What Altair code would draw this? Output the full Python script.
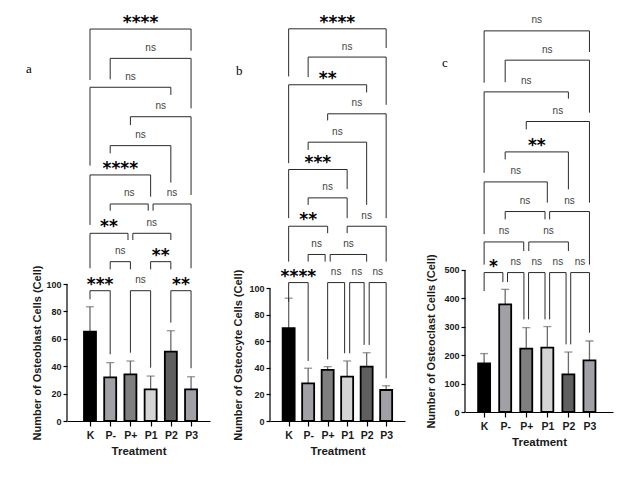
import json
import altair as alt
import pandas as pd

groups = ["K", "P-", "P+", "P1", "P2", "P3"]
bar_colors = ["#000000", "#a0a0a6", "#7f7f7f", "#d4d4d4", "#5f5f5f", "#a0a0a6"]

osteoblast_mean = [65.2, 31.9, 34.1, 23.1, 50.6, 23.1]
osteoblast_sd = [18.2, 10.7, 9.7, 9.7, 15.3, 9.2]
osteocyte_mean = [70.0, 28.4, 38.5, 33.4, 41.0, 23.4]
osteocyte_sd = [22.6, 11.4, 2.5, 11.9, 10.5, 3.2]
osteoclast_mean = [171.5, 379.0, 223.0, 226.6, 132.7, 182.0]
osteoclast_sd = [34.1, 52.7, 74.0, 74.1, 78.3, 68.0]

# significance brackets: (left group, right group, label, bracket height,
#                         left leg end, right leg end, left leg shift, right leg shift)
osteoblast_brackets = [
    ("K", "P-", "***", 95.1, 88.8, 48.7, 0, 0),
    ("P+", "P1", "ns", 95.1, 49.9, 38.9, 0, 0),
    ("P2", "P3", "**", 95.1, 71.8, 38.5, 0, 0),
    ("P-", "P+", "ns", 116.3, 110.7, 110.7, 0, 0),
    ("P1", "P2", "**", 116.3, 110.7, 110.7, 0, 0),
    ("K", "P+", "**", 137.0, 111.5, 132.1, 0, -0.12),
    ("P+", "P2", "ns", 137.0, 132.1, 132.1, 0.12, 0),
    ("P-", "P1", "ns", 158.4, 153.5, 153.5, 0, -0.12),
    ("P1", "P3", "ns", 158.4, 153.5, 111.5, 0.12, 0),
    ("K", "P1", "****", 179.6, 143.1, 163.7, 0, 0),
    ("P-", "P2", "ns", 201.0, 195.4, 174.0, 0, 0),
    ("P+", "P3", "ns", 222.1, 216.0, 165.0, 0, 0),
    ("K", "P2", "ns", 243.6, 186.4, 238.0, 0, 0),
    ("P-", "P3", "ns", 264.7, 249.4, 228.2, 0, 0),
    ("K", "P3", "****", 286.1, 248.9, 270.3, 0, 0),
]
osteocyte_brackets = [
    ("K", "P-", "****", 104.4, 90.0, 45.3, 0, 0),
    ("P+", "P1", "ns", 104.4, 46.5, 51.1, 0, -0.13),
    ("P1", "P2", "ns", 104.4, 51.1, 57.4, 0.13, -0.13),
    ("P2", "P3", "ns", 104.4, 57.4, 32.2, 0.13, 0),
    ("P-", "P+", "ns", 125.6, 120.2, 120.2, 0, -0.13),
    ("P+", "P2", "ns", 125.6, 120.2, 120.2, 0.13, 0),
    ("K", "P+", "**", 146.9, 120.2, 141.7, 0, 0),
    ("P1", "P3", "ns", 146.9, 141.7, 120.2, 0, 0),
    ("P-", "P1", "ns", 168.3, 163.0, 153.0, 0, 0),
    ("K", "P1", "***", 189.7, 153.0, 174.9, 0, 0),
    ("P-", "P2", "ns", 210.3, 204.5, 163.0, 0, 0),
    ("P+", "P3", "ns", 231.7, 226.7, 153.0, 0, 0),
    ("K", "P2", "**", 253.6, 194.5, 247.8, 0, 0),
    ("P-", "P3", "ns", 274.5, 259.4, 238.5, 0, 0),
    ("K", "P3", "****", 295.8, 259.9, 281.3, 0, 0),
]
osteoclast_brackets = [
    ("K", "P-", "*", 490.8, 425.8, 457.4, 0, -0.11),
    ("P-", "P+", "ns", 490.8, 457.4, 326.0, 0.11, -0.11),
    ("P+", "P1", "ns", 490.8, 326.0, 326.0, 0.11, -0.11),
    ("P1", "P2", "ns", 490.8, 326.0, 238.0, 0.11, -0.11),
    ("P2", "P3", "ns", 490.8, 238.0, 279.0, 0.11, 0),
    ("K", "P+", "ns", 598.6, 518.7, 566.5, 0, -0.12),
    ("P+", "P2", "ns", 598.6, 566.5, 566.5, 0.12, 0),
    ("P-", "P1", "ns", 705.6, 678.0, 678.0, 0, -0.11),
    ("P1", "P3", "ns", 705.6, 678.0, 518.7, 0.11, 0),
    ("K", "P1", "ns", 809.9, 626.0, 736.8, 0, 0),
    ("P-", "P2", "**", 915.5, 889.0, 783.6, 0, 0),
    ("P+", "P3", "ns", 1022.5, 994.7, 736.8, 0, 0),
    ("K", "P2", "ns", 1126.8, 842.0, 1102.7, 0, 0),
    ("P-", "P3", "ns", 1238.4, 1161.0, 1053.5, 0, 0),
    ("K", "P3", "ns", 1341.5, 1159.0, 1267.0, 0, 0),
]

FONT = "Liberation Sans"
LINE = "#2a2a2a"


def build_panel(letter, ytitle, means, sds, brackets, ymax, ytop, ystep,
                width, height, xlo, xhi, title_x, letter_x, letter_y):
    bars = pd.DataFrame({"idx": list(range(len(groups))), "group": groups,
                         "mean": means, "sd": sds})
    segs, labs = [], []
    for a, b, lab, lvl, lb, rb, ls, rs in brackets:
        xl = groups.index(a) + ls
        xr = groups.index(b) + rs
        segs += [
            {"x": xl, "x2": xr, "y": lvl, "y2": lvl},
            {"x": xl, "x2": xl, "y": lvl, "y2": lb},
            {"x": xr, "x2": xr, "y": lvl, "y2": rb},
        ]
        labs.append({"x": (xl + xr) / 2, "y": lvl, "label": lab,
                     "star": lab != "ns"})
    segs = pd.DataFrame(segs)
    labs = pd.DataFrame(labs)

    xscale = alt.Scale(domain=[xlo, xhi], nice=False, zero=False)
    yscale = alt.Scale(domain=[0, ymax], nice=False, zero=True)
    xaxis = alt.Axis(values=list(range(len(groups))),
                     labelExpr=json.dumps(groups) + "[datum.value]",
                     title="Treatment", grid=False, labelFont=FONT,
                     labelFontWeight="bold", labelFontSize=10.5,
                     labelColor="#1a1a1a", labelPadding=4, tickSize=5,
                     tickColor="black", tickWidth=1.2, domainColor="black",
                     domainWidth=1.2, titleFont=FONT, titleFontSize=11.5,
                     titleFontWeight="bold", titleColor="#1a1a1a",
                     titlePadding=5, labelFlush=False)
    yaxis = alt.Axis(values=list(range(0, ytop + 1, ystep)), title=ytitle,
                     grid=False, domain=False, labelFont=FONT,
                     labelFontWeight="bold", labelFontSize=9,
                     labelColor="#1a1a1a", labelPadding=2, tickSize=4,
                     tickColor="black", tickWidth=1.2, titleFont=FONT,
                     titleFontSize=11, titleFontWeight="bold",
                     titleColor="#1a1a1a", titleAngle=270,
                     titleBaseline="bottom", titleAlign="center",
                     titleX=title_x,
                     titleY=height - (ytop / ymax * height) / 2)

    def X(f):
        return alt.X(f, type="quantitative", scale=xscale, axis=xaxis)

    def Y(f):
        return alt.Y(f, type="quantitative", scale=yscale, axis=yaxis)

    base = alt.Chart(bars).transform_calculate(top="datum.mean + datum.sd")
    err = base.mark_rule(color="#6a6a6a", strokeWidth=1.3).encode(
        x=X("idx"), y=Y("mean"), y2="top:Q")
    cap = base.mark_tick(orient="horizontal", size=8, thickness=1.3,
                         color="#6a6a6a").encode(x=X("idx"), y=Y("top"))
    bar = base.mark_bar(size=12, stroke="black", strokeWidth=1.8,
                        orient="vertical").encode(
        x=X("idx"), y=Y("mean"),
        color=alt.Color("group:N", scale=alt.Scale(domain=groups,
                                                    range=bar_colors),
                        legend=None))
    lines = alt.Chart(segs).mark_rule(color=LINE, strokeWidth=1).encode(
        x=X("x"), x2="x2:Q", y=Y("y"), y2="y2:Q")
    stars = alt.Chart(labs).transform_filter("datum.star").mark_text(
        font="DejaVu Sans", fontWeight="bold", fontSize=17,
        baseline="alphabetic", dy=-1, color="black").encode(
        x=X("x"), y=Y("y"), text="label:N")
    ns = alt.Chart(labs).transform_filter("!datum.star").mark_text(
        font=FONT, fontSize=10, baseline="alphabetic", dy=-7.5,
        color="#444444").encode(x=X("x"), y=Y("y"), text="label:N")
    ydom = alt.Chart(pd.DataFrame({"a": [0], "b": [ytop]})).mark_rule(
        color="black", strokeWidth=1.2).encode(
        x=alt.value(0), y=Y("a"), y2="b:Q")
    let = alt.Chart(pd.DataFrame({"t": [letter]})).mark_text(
        font="Liberation Serif", fontSize=13, align="left",
        baseline="alphabetic", color="black").encode(
        x=alt.value(letter_x), y=alt.value(letter_y), text="t:N")
    return alt.layer(err, cap, bar, lines, stars, ns, ydom, let).properties(
        width=width, height=height)


pa = build_panel("a", "Number of Osteoblast Cells (Cell)", osteoblast_mean,
                 osteoblast_sd, osteoblast_brackets, 300, 100, 20,
                 143, 411, -0.89, 5.69, -25, -41, 63)
pb = build_panel("b", "Number of Osteocyte Cells (Cell)", osteocyte_mean,
                 osteocyte_sd, osteocyte_brackets, 310, 100, 20,
                 135, 411, -0.70, 5.71, -27, -34, 65)
pc = build_panel("c", "Number of Osteoclast Cells (Cell)", osteoclast_mean,
                 osteoclast_sd, osteoclast_brackets, 1415, 500, 100,
                 148, 402, -0.67, 5.88, -29, -23, 57)

chart = alt.hconcat(pa, pb, pc, spacing=60, bounds="flush").properties(
    padding={"left": 18, "top": 2, "right": 5, "bottom": 5}
).configure_view(stroke=None)

chart.save("out.html", embed_options={"renderer": "svg", "actions": False})
